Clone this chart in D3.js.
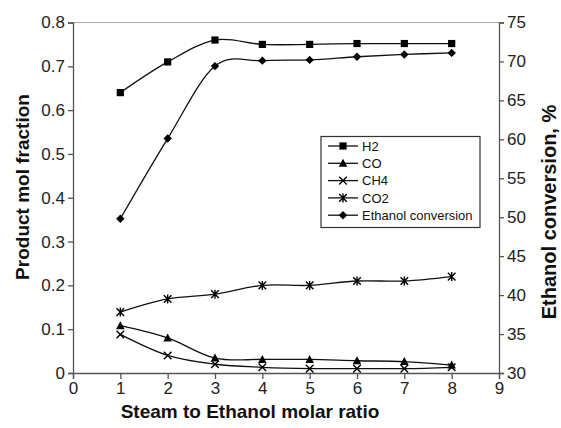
<!DOCTYPE html>
<html><head><meta charset="utf-8">
<script src="https://cdn.jsdelivr.net/npm/d3@7"></script>
<style>body{margin:0;background:#fff}svg{display:block;font-family:"Liberation Sans",Arial,sans-serif}</style>
</head><body><svg id="c" width="561" height="428"></svg>
<script>
const ratios = [1,2,3,4,5,6,7,8];
const h2 = [0.64,0.71,0.76,0.75,0.75,0.752,0.752,0.752];
const co = [0.108,0.08,0.034,0.031,0.031,0.028,0.026,0.018];
const ch4 = [0.088,0.04,0.02,0.013,0.01,0.01,0.01,0.013];
const co2 = [0.139,0.169,0.18,0.2,0.2,0.21,0.21,0.22];
const ethanolConv = [49.8,60.1,69.4,70.1,70.2,70.6,70.9,71.1];
const xTicks = [0,1,2,3,4,5,6,7,8,9];
const yLeftTicks = [0,0.1,0.2,0.3,0.4,0.5,0.6,0.7,0.8];
const yRightTicks = [30,35,40,45,50,55,60,65,70,75];
const legendLabels = ["H2","CO","CH4","CO2","Ethanol conversion"];

const svg = d3.select("#c");
const L=73,R=499,T=22.5,B=373;
const x = d3.scaleLinear().domain([0,9]).range([L,R]);
const yl = d3.scaleLinear().domain([0,0.8]).range([B,T]);
const yr = d3.scaleLinear().domain([30,75]).range([B,T]);
const axisCol="#555";

// top border
svg.append("line").attr("x1",L).attr("x2",R).attr("y1",T).attr("y2",T).attr("stroke","#aaa").attr("stroke-width",1.2);

function styleAxis(g){
  g.selectAll("path,line").attr("stroke",axisCol).attr("stroke-width",1.3);
  g.selectAll("text").attr("fill","#222").style("font-size","17px").style("font-family","'Liberation Sans',Arial,sans-serif");
}
svg.append("g").attr("transform",`translate(0,${B})`)
  .call(d3.axisBottom(x).tickValues(xTicks).tickFormat(d3.format("d")).tickSizeOuter(0).tickSize(6).tickPadding(3))
  .call(styleAxis);
svg.append("g").attr("transform",`translate(${L},0)`)
  .call(d3.axisLeft(yl).tickValues(yLeftTicks).tickFormat(d=>d===0?"0":d3.format(".1f")(d)).tickSizeOuter(0).tickSize(5).tickPadding(3))
  .call(styleAxis);
svg.append("g").attr("transform",`translate(${R},0)`)
  .call(d3.axisRight(yr).tickValues(yRightTicks).tickFormat(d3.format("d")).tickSizeOuter(0).tickSize(5).tickPadding(3))
  .call(styleAxis);

// titles
svg.append("text").attr("x",250).attr("y",418).attr("text-anchor","middle")
  .style("font-weight","bold").style("font-size","19px").attr("fill","#111").text("Steam to Ethanol molar ratio");
svg.append("text").attr("transform","translate(29,187) rotate(-90)").attr("text-anchor","middle")
  .style("font-weight","bold").style("font-size","19px").attr("fill","#111").text("Product mol fraction");
svg.append("text").attr("transform","translate(556,212) rotate(-90)").attr("text-anchor","middle")
  .style("font-weight","bold").style("font-size","20px").attr("fill","#111").text("Ethanol conversion, %");

const curve = d3.curveCardinal.tension(0);
const series = [
  {vals:h2, y:yl, m:"square"},
  {vals:co, y:yl, m:"triangle"},
  {vals:ch4, y:yl, m:"x"},
  {vals:co2, y:yl, m:"star"},
  {vals:ethanolConv, y:yr, m:"diamond"}
];
function marker(g, type, cx, cy){
  const s=3.6;
  if(type==="square") g.append("rect").attr("x",cx-s).attr("y",cy-s).attr("width",2*s).attr("height",2*s).attr("fill","#000");
  else if(type==="diamond") g.append("path").attr("d",`M${cx},${cy-4.2}L${cx+4.2},${cy}L${cx},${cy+4.2}L${cx-4.2},${cy}Z`).attr("fill","#000");
  else if(type==="triangle") g.append("path").attr("d",`M${cx},${cy-4.5}L${cx+4.3},${cy+3.5}L${cx-4.3},${cy+3.5}Z`).attr("fill","#000");
  else if(type==="x") g.append("path").attr("d",`M${cx-3.8},${cy-3.8}L${cx+3.8},${cy+3.8}M${cx+3.8},${cy-3.8}L${cx-3.8},${cy+3.8}`).attr("stroke","#000").attr("stroke-width",1.4);
  else if(type==="star") g.append("path").attr("d",`M${cx-3.8},${cy-3.8}L${cx+3.8},${cy+3.8}M${cx+3.8},${cy-3.8}L${cx-3.8},${cy+3.8}M${cx},${cy-4.5}L${cx},${cy+4.5}`).attr("stroke","#000").attr("stroke-width",1.4);
}
series.forEach(s=>{
  const line = d3.line().x((d,i)=>x(ratios[i])).y(d=>s.y(d)).curve(curve);
  svg.append("path").attr("d",line(s.vals)).attr("fill","none").attr("stroke","#111").attr("stroke-width",1.3);
  const g=svg.append("g");
  s.vals.forEach((v,i)=>marker(g,s.m,x(ratios[i]),s.y(v)));
});

// legend
const lg = svg.append("g");
lg.append("rect").attr("x",321).attr("y",136.5).attr("width",159).attr("height",91).attr("fill","#fff").attr("stroke","#333").attr("stroke-width",1.2);
const types=["square","triangle","x","star","diamond"];
legendLabels.forEach((lab,i)=>{
  const yy=146+i*17.3;
  lg.append("line").attr("x1",328).attr("x2",358).attr("y1",yy).attr("y2",yy).attr("stroke","#111").attr("stroke-width",1.3);
  marker(lg,types[i],343,yy);
  lg.append("text").attr("x",362).attr("y",yy+4.6).style("font-size","13px").attr("fill","#111").text(lab);
});
</script></body></html>
